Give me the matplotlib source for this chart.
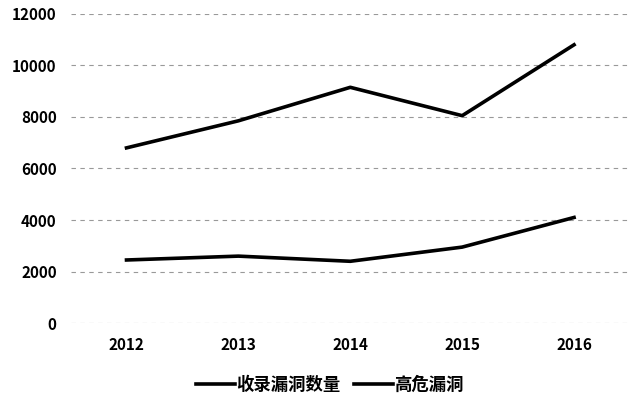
import matplotlib
matplotlib.use("Agg")
import matplotlib.pyplot as plt

plt.rcParams['font.family'] = ['Noto Sans CJK SC', 'DejaVu Sans']

years = ["2012", "2013", "2014", "2015", "2016"]
total_vulns = [6800, 7850, 9150, 8050, 10800]
high_risk = [2450, 2600, 2400, 2950, 4100]
series_names = ["收录漏洞数量", "高危漏洞"]

fig = plt.figure(figsize=(6.3, 3.96), dpi=100)
ax = fig.add_axes([0.112, 0.184, 0.888, 0.781])

x = range(len(years))
ax.plot(x, total_vulns, color="black", lw=2.6, label=series_names[0])
ax.plot(x, high_risk, color="black", lw=2.6, label=series_names[1])

ax.set_xlim(-0.5, 4.5)
ax.set_ylim(0, 12000)
ax.set_yticks(range(0, 12001, 2000))
ax.set_xticks(list(x))
ax.set_xticklabels(years)
ax.grid(axis="y", color="#999999", linestyle=(0, (4, 4)), lw=0.8)
ax.set_axisbelow(True)
for s in ax.spines.values():
    s.set_visible(False)
ax.tick_params(length=0, labelsize=11, pad=10)
for lab in ax.get_xticklabels() + ax.get_yticklabels():
    lab.set_fontweight("bold")

leg = ax.legend(loc="upper center", bbox_to_anchor=(0.464, -0.12), ncol=2,
                frameon=False, handlelength=2.2, handletextpad=0.1,
                columnspacing=0.8, prop={"weight": "bold", "size": 12.5})

fig.savefig("out.png", dpi=100)
